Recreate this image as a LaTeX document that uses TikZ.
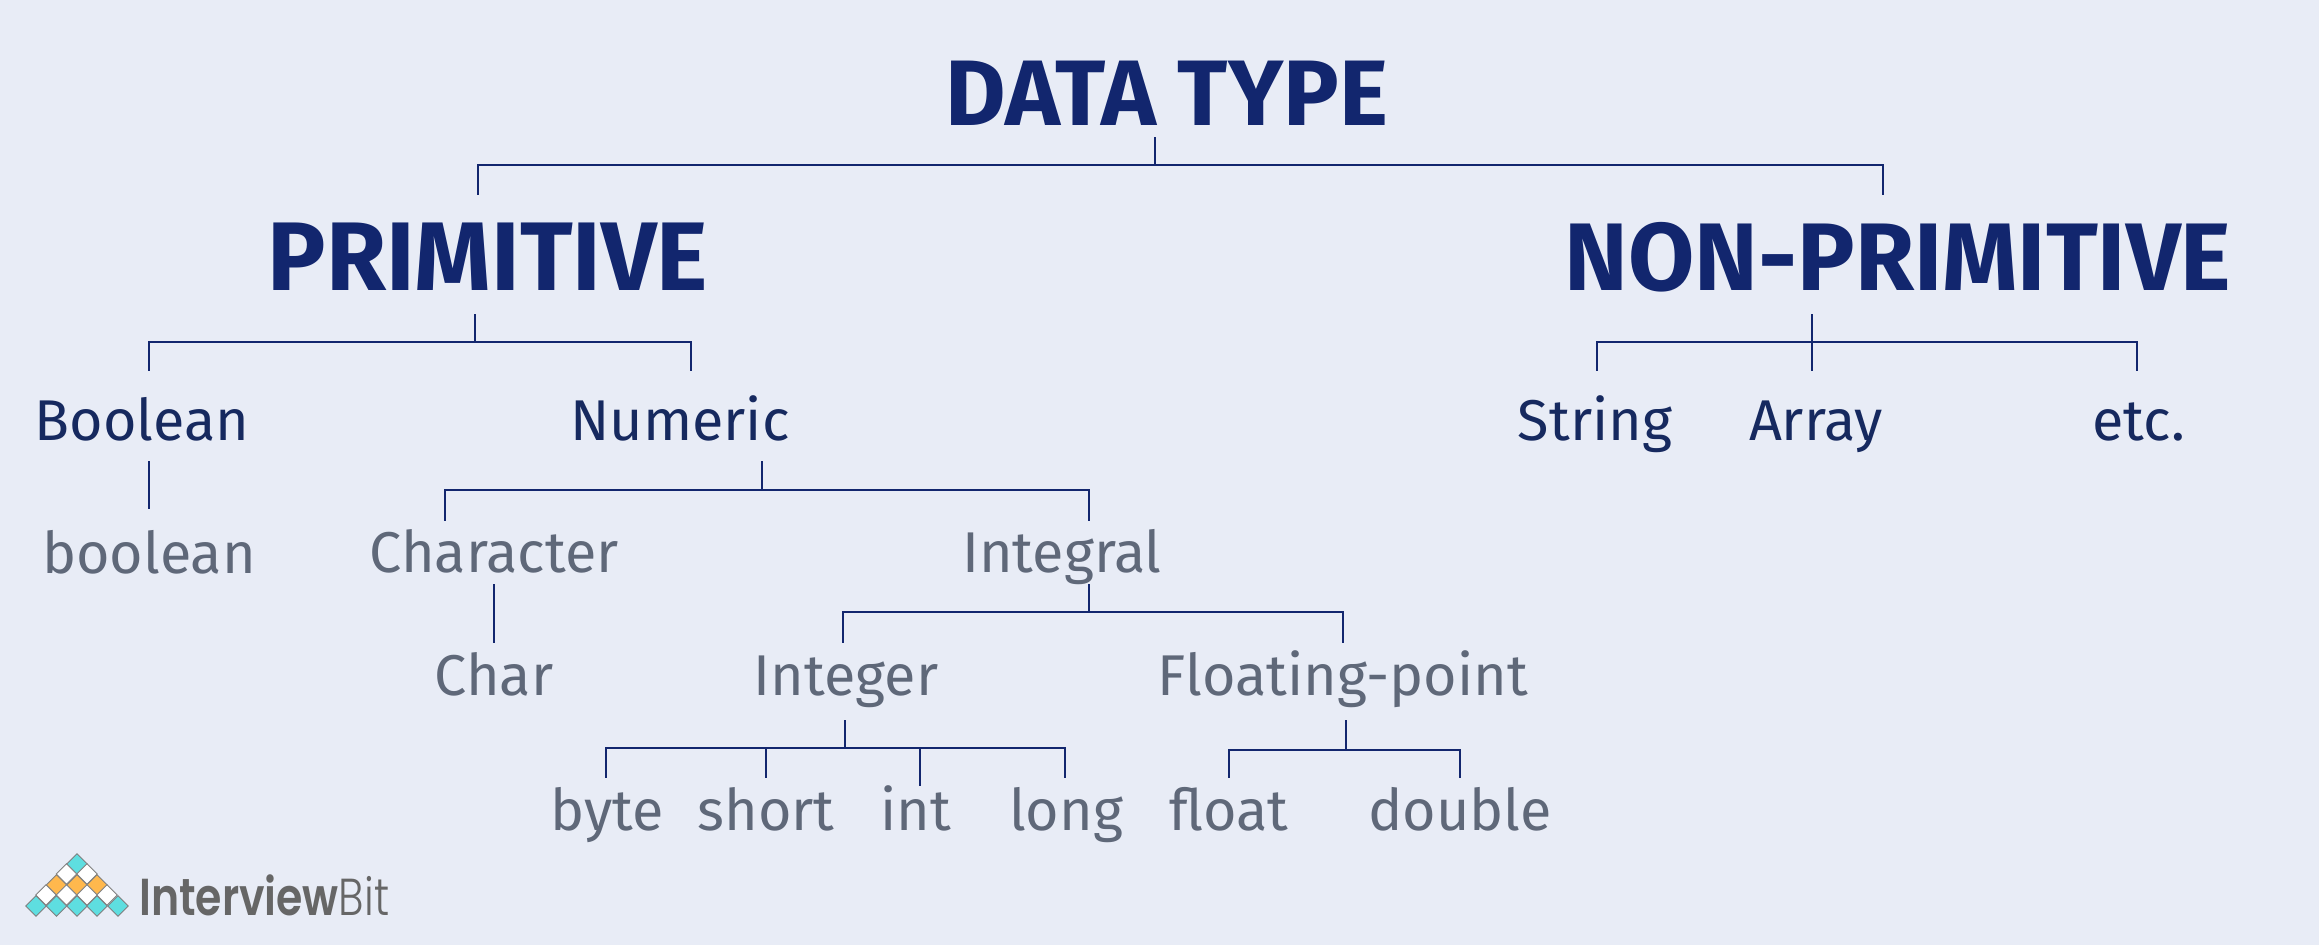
\documentclass[tikz,border=0pt]{standalone}
\usepackage{fontspec}
\setmainfont{Fira Sans}
\newfontfamily\logofont{Poppins SemiBold}
\newfontfamily\logolight{Poppins Light}
\usepackage{xcolor}
\definecolor{pagebg}{HTML}{E8ECF6}
\definecolor{navy}{HTML}{12266E}
\definecolor{inkblue}{HTML}{16295F}
\definecolor{slate}{HTML}{5F6879}
\definecolor{tealtile}{HTML}{5EDEE0}
\definecolor{ambertile}{HTML}{FFB84D}
\definecolor{logogray}{HTML}{666666}

\begin{document}
\begin{tikzpicture}[
    x=1pt, y=-1pt,
    tree/.style={draw=navy, line width=1.7pt},
    lbl/.style={inner sep=0pt, anchor=base, text depth=#1},
    title/.style={lbl=12pt, font=\fontsize{93}{93}\selectfont\bfseries, text=navy, text height=64pt},
    prim/.style={lbl=24pt, font=\fontsize{#1}{96}\selectfont\bfseries, text=navy, text height=95pt},
    kind/.style={lbl=21pt, font=\fontsize{57.5}{58}\selectfont, text=inkblue, text height=69pt},
    sub/.style={lbl=#1, font=\fontsize{57.5}{58}\selectfont, text=slate, text height=52pt},
    logotile/.style={draw=gray, line width=0.8pt},
  ]
    \fill[pagebg] (0,0) rectangle (2319,945);

    \node[title] (datatype) at (1167,125) {DATA TYPE};
    \node[prim=97.5] (primitive) at (488,290) {PRIMITIVE};
    \node[prim=96] (nonprimitive) at (1898,290) {NON-PRIMITIVE};

    \node[kind] (boolcls) at (142,440) {Boolean};
    \node[kind] (numeric) at (680,440) {Numeric};
    \node[kind] (string) at (1595,440) {String};
    \node[kind] (array) at (1816,440) {Array};
    \node[kind] (etc) at (2139,440) {etc.};

    \node[sub=11pt, text height=64pt] (boolprim) at (149,573) {boolean};
    \node[sub=12pt, text height=51pt] (character) at (494,572) {Character};
    \node[sub=12pt, text height=51pt] (integral) at (1062,572) {Integral};

    \node[sub=25pt] (charprim) at (494,695) {Char};
    \node[sub=25pt] (integer) at (846,695) {Integer};
    \node[sub=25pt] (floating) at (1343,695) {Floating-point};

    \node[sub=10pt] (byte) at (607,830) {byte};
    \node[sub=10pt] (short) at (766,830) {short};
    \node[sub=10pt, text height=44pt] (int) at (916,830) {int};
    \node[sub=10pt] (long) at (1066,830) {long};
    \node[sub=10pt] (float) at (1229,830) {float};
    \node[sub=10pt] (double) at (1460,830) {double};

    \coordinate (bustop) at (1155,165);
    \coordinate (busprim) at (475,342);
    \coordinate (busnon) at (1812,342);
    \coordinate (busnum) at (762,490);
    \coordinate (busint) at (1089,612);
    \coordinate (businteger) at (845,748);
    \coordinate (busfloat) at (1346,750);

    % top level
    \draw[tree] ([xshift=-12pt]datatype.south) -- (bustop);
    \draw[tree] ([xshift=-10pt]primitive.north) |- (bustop) -| ([xshift=-15pt]nonprimitive.north);

    % primitive side
    \draw[tree] ([xshift=-13pt]primitive.south) -- (busprim);
    \draw[tree] ([xshift=7pt]boolcls.north) |- (busprim) -| ([xshift=11pt]numeric.north);
    \draw[tree] ([xshift=7pt]boolcls.south) -- (boolprim.north);
    \draw[tree] ([xshift=82pt]numeric.south) -- (busnum);
    \draw[tree] ([xshift=-49pt]character.north) |- (busnum) -| ([xshift=27pt]integral.north);
    \draw[tree] (character.south) -- (charprim.north);
    \draw[tree] ([xshift=27pt]integral.south) -- (busint);
    \draw[tree] ([xshift=-3pt]integer.north) |- (busint) -| (floating.north);
    \draw[tree] ([xshift=-1pt]integer.south) -- (businteger);
    \draw[tree] ([xshift=-1pt]byte.north) |- (businteger) -| ([xshift=-1pt]long.north);
    \draw[tree] (short.north) -- (short.north |- businteger);
    \draw[tree] ([xshift=4pt]int.north) -- ([xshift=4pt]int.north |- businteger);
    \draw[tree] ([xshift=3pt]floating.south) -- (busfloat);
    \draw[tree] (float.north) |- (busfloat) -| (double.north);

    % non-primitive side
    \draw[tree] ([xshift=2pt]string.north) |- (busnon) -| ([xshift=-2pt]etc.north);
    \draw[tree] ([xshift=-86pt]nonprimitive.south) -- ([xshift=-4pt]array.north);

    % logo
    \foreach \tx/\ty/\tc in {77/864/tealtile, 66.5/874/white, 87/874/white,
        56.5/885/ambertile, 77/885/ambertile, 97/885/ambertile,
        46/895/white, 66.5/895/white, 87/895/white, 107/895/white,
        36/906/tealtile, 56.5/906/tealtile, 77/906/tealtile, 97/906/tealtile, 118/906/tealtile}
      \filldraw[logotile, fill=\tc] (\tx-10.3,\ty) -- (\tx,\ty-10.3) -- (\tx+10.3,\ty) -- (\tx,\ty+10.3) -- cycle;
    \node[inner sep=0pt, anchor=base west, text=logogray, font=\fontsize{52}{52}\logofont, xscale=0.82, transform shape] (brand) at (139,915)
      {Interview{\logolight Bit}};
\end{tikzpicture}
\end{document}
